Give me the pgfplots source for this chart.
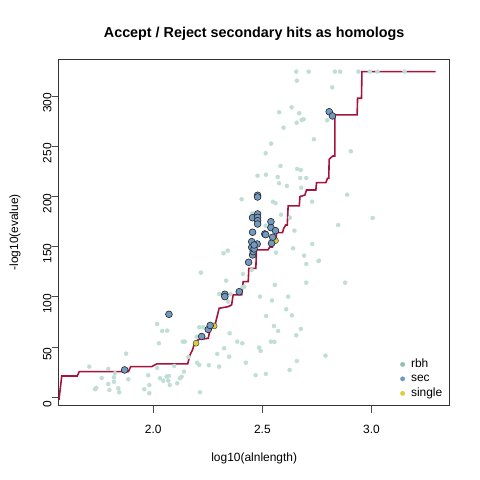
\documentclass[border=0pt]{standalone}
\usepackage{fontspec}
\setmainfont{Liberation Sans}
\usepackage{pgfplots}
\pgfplotsset{compat=1.18}
\definecolor{rbh}{RGB}{141,193,181}
\definecolor{rbhpt}{RGB}{192,221,214}
\definecolor{sec}{RGB}{113,153,193}
\definecolor{single}{RGB}{220,205,60}
\definecolor{steps}{RGB}{165,20,60}
\begin{document}
\begin{tikzpicture}
\path[use as bounding box] (0,0) rectangle (480bp,480bp);
\begin{axis}[
  at={(58.7bp,74.3bp)}, anchor=south west,
  scale only axis, width=391bp, height=346.7bp,
  xmin=1.567, xmax=3.358, ymin=-8.4, ymax=336.8,
  axis line style={line width=0.8bp, black!80},
  xtick={2,2.5,3}, xticklabels={2.0,2.5,3.0},
  ytick={0,50,100,150,200,250,300},
  xtick pos=bottom, ytick pos=left,
  tick align=outside, major tick length=7bp,
  tick style={black!70, line width=0.8bp},
  /pgf/number format/assume math mode=true,
  ticklabel style={font=\fontsize{12}{14}\selectfont},
  xticklabel style={inner sep=0pt, yshift=-12bp},
  yticklabel style={rotate=90, anchor=south, inner sep=0pt, xshift=-7bp},
  title={Accept / Reject secondary hits as homologs},
  title style={font=\bfseries\fontsize{14.4}{16}\selectfont, at={(axis description cs:0.5,1.0557)}, anchor=center},
  xlabel={log10(alnlength)},
  xlabel style={font=\fontsize{12}{14}\selectfont, at={(axis description cs:0.5,-0.1529)}, anchor=center},
  ylabel={-log10(evalue)},
  ylabel style={font=\fontsize{12}{14}\selectfont, at={(axis description cs:-0.1118,0.5)}, anchor=center, rotate=0},
  legend style={draw=none, fill=none, at={(axis description cs:0.873,0.140)}, anchor=north west,
    inner sep=0pt, font=\fontsize{12}{14}\selectfont, row sep=0.5bp, column sep=5bp,
    nodes={inner sep=1bp, text height=9bp, text depth=3bp}},
  legend cell align=left,
]
% single
\addplot[forget plot, only marks, mark=*, mark size=3bp, mark options={fill=single, draw=black!70, line width=0.5bp}] coordinates {
(2.196,53.8) (2.279,71.0) (2.560,155.9)
};
% step line
\addplot[forget plot, steps, line width=1.6bp, mark=none] coordinates {
(1.568,-2.7) (1.581,21.2) (1.652,21.2) (1.661,25.5) (1.886,25.5) (1.897,30.5)
(1.993,30.5) (2.016,33.2) (2.158,33.2) (2.168,42.1) (2.180,47.1) (2.191,55.4)
(2.211,57.7) (2.252,58.7) (2.263,70.3) (2.283,72.0) (2.302,88.6) (2.343,90.2)
(2.359,91.9) (2.366,101.9) (2.405,101.9) (2.412,115.1) (2.435,115.1) (2.438,128.4)
(2.470,128.4) (2.473,146.7) (2.525,146.7) (2.534,149.6) (2.546,149.6) (2.553,154.9)
(2.562,156.6) (2.565,163.9) (2.592,163.9) (2.598,168.3) (2.607,171.5) (2.614,171.5)
(2.618,190.5) (2.669,190.5) (2.672,199.7) (2.695,201.4) (2.702,206.4) (2.745,206.4)
(2.748,213.7) (2.791,213.7) (2.798,218.0) (2.804,218.0) (2.806,237.0) (2.814,238.7)
(2.823,240.2) (2.832,240.2) (2.832,281.1) (2.934,281.1) (2.936,297.7) (2.954,297.7)
(2.956,324.2) (3.293,324.2)
};
% rbh
\addplot[forget plot, only marks, mark=*, mark size=2bp, color=rbhpt, mark options={draw=rbhpt, fill=rbhpt}] coordinates {
(1.707,30.5) (1.876,43.4) (1.764,19.2) (1.794,28.2) (1.820,19.9) (1.825,23.9)
(1.820,15.5) (1.794,13.2) (1.840,9.0) (1.844,5.0) (1.799,7.3) (1.886,17.9)
(1.733,8.0) (1.739,9.3) (1.977,21.9) (2.018,29.2) (1.959,8.0) (1.982,12.2)
(1.982,4.0) (2.031,18.9) (2.061,20.5) (2.072,21.2) (2.046,16.5) (2.069,16.5)
(2.076,12.2) (2.096,31.2) (2.110,13.9) (2.122,18.9) (2.130,20.5) (2.141,25.5)
(2.135,55.4) (2.145,55.4) (2.026,53.8) (2.018,73.0) (2.041,66.0) (2.064,66.3)
(2.160,40.1) (2.211,69.7) (2.229,69.7) (2.199,60.3) (2.211,32.2) (2.201,34.4)
(2.214,5.0) (2.255,31.9) (2.293,43.1) (2.302,30.5) (2.325,48.8) (2.348,40.4)
(2.350,63.7) (2.385,55.4) (2.408,53.8) (2.424,34.4) (2.469,21.9) (2.485,49.4)
(2.492,46.1) (2.516,23.2) (2.517,80.9) (2.489,100.2) (2.544,96.4) (2.553,71.0)
(2.572,66.0) (2.539,55.4) (2.555,55.1) (2.557,111.8) (2.411,122.8) (2.334,116.1)
(2.218,124.1) (2.302,102.8) (2.354,102.8) (2.343,95.2) (2.409,109.5) (2.322,143.4)
(2.341,146.0) (2.451,126.7) (2.562,144.0) (2.691,141.0) (2.701,132.7) (2.757,135.7)
(2.701,114.1) (2.879,114.1) (2.618,100.2) (2.609,87.6) (2.635,81.6) (2.676,68.0)
(2.655,61.7) (2.789,41.4) (2.658,36.1) (2.625,27.2) (2.655,324.2) (2.712,324.2)
(2.832,324.2) (2.856,324.2) (2.940,324.2) (2.992,324.2) (3.027,324.2) (3.151,324.2)
(2.658,315.2) (2.820,308.6) (2.634,288.7) (2.577,283.8) (2.669,282.8) (2.657,273.4)
(2.680,276.1) (2.689,276.8) (2.797,275.8) (2.597,268.4) (2.736,256.9) (2.540,252.5)
(2.515,242.9) (2.905,244.9) (2.583,230.3) (2.659,227.3) (2.676,226.3) (2.478,220.6)
(2.516,221.6) (2.570,219.3) (2.673,218.3) (2.701,218.3) (2.576,213.1) (2.612,210.4)
(2.678,208.7) (2.888,201.7) (2.405,197.1) (2.548,194.7) (2.560,193.2) (2.728,194.7)
(2.586,181.8) (2.626,178.8) (2.453,183.2) (3.005,178.5) (2.847,171.5) (2.515,170.8)
(2.647,165.9) (2.728,152.6) (2.641,148.3) (2.759,136.0) (2.417,110.1)
};
% sec
\addplot[forget plot, only marks, mark=*, mark size=3.4bp, mark options={fill=sec, draw=black!85, line width=0.6bp}] coordinates {
(1.869,27.2) (2.072,82.6) (2.222,60.5) (2.252,67.5) (2.261,71.5) (2.328,102.5)
(2.328,100.2) (2.394,105.1) (2.437,134.4) (2.455,141.7) (2.458,145.0) (2.451,149.3)
(2.462,147.7) (2.451,154.9) (2.476,152.6) (2.462,151.6) (2.455,164.3) (2.455,178.8)
(2.478,182.5) (2.478,179.2) (2.478,175.8) (2.478,172.5) (2.478,201.1) (2.478,199.4)
(2.511,162.6) (2.515,161.9) (2.539,174.8) (2.539,168.9) (2.560,165.9) (2.547,159.3)
(2.542,153.3) (2.806,284.3) (2.821,280.1)
};
\addlegendimage{legend image code/.code={\fill[rbh] (2.2bp,0bp) circle (2.2bp);}}
\addlegendentry{rbh}
\addlegendimage{legend image code/.code={\fill[sec] (2.2bp,0bp) circle (2.2bp);}}
\addlegendentry{sec}
\addlegendimage{legend image code/.code={\fill[single] (2.2bp,0bp) circle (2.2bp);}}
\addlegendentry{single}
\end{axis}
\end{tikzpicture}
\end{document}
